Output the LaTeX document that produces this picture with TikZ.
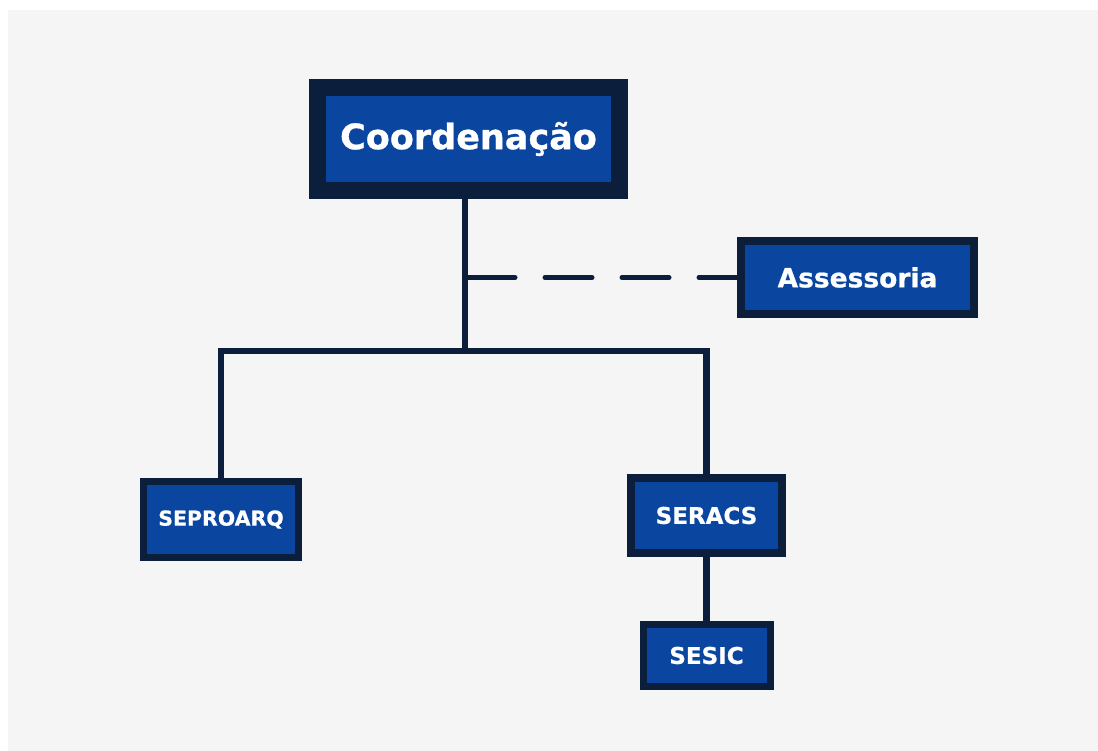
\documentclass[tikz,border=0pt]{standalone}
\usepackage{fontspec}
\setmainfont{DejaVu Sans}[BoldFeatures={FakeBold=0.8}]
\definecolor{marinho}{HTML}{0B1F3D}
\definecolor{azul}{HTML}{0A459F}
\definecolor{fundo}{HTML}{F5F5F5}

\tikzstyle{caixa}=[draw=marinho, fill=azul, rectangle, inner sep = 0pt, text=white, font=\bfseries]
\tikzstyle{ligacao}=[draw=marinho, line width = 6.5pt]

\begin{document}
\begin{tikzpicture}[x=1pt, y=-1pt]
    \useasboundingbox (0,0) rectangle (1098,751);
    \fill[white] (0,0) rectangle (1098,751);
    \fill[fundo] (8,10) rectangle (1098,751);

    \node[caixa, line width = 17pt, minimum width = 302pt, minimum height = 103pt, font=\bfseries\fontsize{35}{38}\selectfont] (coord) at (468.5,139) {Coordenação};
    \node[caixa, line width = 8pt, minimum width = 233pt, minimum height = 73pt, font=\bfseries\fontsize{26.5}{30}\selectfont] (assess) at (857.5,277.5) {Assessoria};
    \node[caixa, line width = 7pt, minimum width = 155pt, minimum height = 76pt, font=\bfseries\fontsize{20.5}{24}\selectfont] (seproarq) at (221,519.5) {SEPROARQ};
    \node[caixa, line width = 8pt, minimum width = 151pt, minimum height = 75pt, font=\bfseries\fontsize{23}{26}\selectfont] (seracs) at (706.5,515.5) {SERACS};
    \node[caixa, line width = 7pt, minimum width = 127pt, minimum height = 62pt, font=\bfseries\fontsize{23}{26}\selectfont] (sesic) at (706.5,655.5) {SESIC};

    % juncao
    \coordinate (topo) at (465,351);

    \draw[ligacao] (coord.south -| topo) -- (topo);
    \draw[ligacao] (seproarq.north) |- (topo) -| (seracs.north);
    \draw[ligacao] (seracs.south) -- (sesic.north);
    \draw[ligacao, line width = 5pt, line cap = round, dash pattern = on 47pt off 30pt] ([xshift=3pt]assess.west -| topo) -- (assess.west);
\end{tikzpicture}
\end{document}
